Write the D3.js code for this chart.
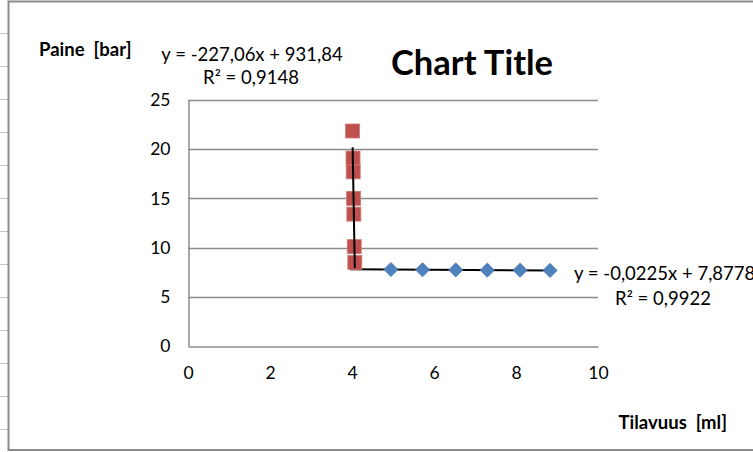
<!DOCTYPE html>
<html>
<head>
<meta charset="utf-8">
<script src="https://cdn.jsdelivr.net/npm/d3@7"></script>
<style>
  html, body { margin: 0; padding: 0; background: #fff; }
  svg { display: block; font-family: Lato, "Open Sans", sans-serif; }
  text { white-space: pre; }
</style>
</head>
<body>
<svg id="chart" width="753" height="452"></svg>
<script>
// Measurements: volume [ml] vs pressure [bar]
const blueX = [4.95, 5.72, 6.53, 7.30, 8.10, 8.83];
const blueY = [7.77, 7.75, 7.73, 7.71, 7.70, 7.68];
const redX  = [4.015, 4.025, 4.03, 4.04, 4.045, 4.055, 4.069];
const redY  = [21.85, 19.1, 17.7, 15.0, 13.4, 10.1, 8.5];

// Linear trendlines (slope, intercept) with their R² labels
const blueFit = { slope: -0.0225, intercept: 7.8778, r2: "0,9922", eq: "y = -0,0225x + 7,8778", start: 3.95 };
const redFit  = { slope: -227.06, intercept: 931.84, r2: "0,9148", eq: "y = -227,06x + 931,84" };

const xTicks = [0, 2, 4, 6, 8, 10];
const yTicks = [0, 5, 10, 15, 20, 25];

const chartTitle = "Chart Title";
const yTitle = "Paine  [bar]";
const xTitle = "Tilavuus  [ml]";

const svg = d3.select("#chart");
const W = 753, H = 452;

// spreadsheet row lines visible left of the chart frame
const rowLines = d3.range(33, H, 33);
svg.append("g").selectAll("line").data(rowLines).join("line")
  .attr("x1", 0).attr("x2", 8).attr("y1", d => d + 0.5).attr("y2", d => d + 0.5)
  .attr("stroke", "#c6c6c6").attr("stroke-width", 1);

// chart frame
svg.append("rect")
  .attr("x", 8.5).attr("y", 1.5).attr("width", W + 10).attr("height", 448.5)
  .attr("fill", "#fff").attr("stroke", "#8a8a8a").attr("stroke-width", 2);

const plot = { left: 188, right: 598, top: 100, bottom: 346 };
const x = d3.scaleLinear().domain([0, 10]).range([plot.left, plot.right]);
const y = d3.scaleLinear().domain([0, 25]).range([plot.bottom, plot.top]);

// horizontal gridlines
svg.append("g").selectAll("line").data(yTicks.filter(d => d > 0)).join("line")
  .attr("x1", plot.left).attr("x2", plot.right)
  .attr("y1", d => Math.round(y(d)) + 0.5).attr("y2", d => Math.round(y(d)) + 0.5)
  .attr("stroke", "#8c8c8c").attr("stroke-width", 1.5);

// axes
const yAxis = d3.axisLeft(y).tickValues(yTicks).tickSize(0).tickPadding(18);
const xAxis = d3.axisBottom(x).tickValues(xTicks).tickSize(0).tickPadding(20);

const gy = svg.append("g").attr("transform", `translate(${plot.left + 0.5},0)`).call(yAxis);
const gx = svg.append("g").attr("transform", `translate(0,${plot.bottom + 0.5})`).call(xAxis);
[gx, gy].forEach(g => {
  g.select(".domain").attr("stroke", "#8c8c8c").attr("stroke-width", 1.5);
  g.selectAll("text").attr("font-family", "Lato, sans-serif").attr("font-size", 17.5).attr("fill", "#000");
});

// trendlines
const line = d3.line().x(d => x(d[0])).y(d => y(d[1]));
const bx0 = blueFit.start, bx1 = d3.max(blueX);
svg.append("path")
  .datum([[bx0, blueFit.slope * bx0 + blueFit.intercept], [bx1, blueFit.slope * bx1 + blueFit.intercept]])
  .attr("d", line).attr("stroke", "#000").attr("stroke-width", 2).attr("fill", "none");

// blue series: diamonds
const blue = blueX.map((v, i) => [v, blueY[i]]);
svg.append("g").selectAll("path").data(blue).join("path")
  .attr("d", d3.symbol(d3.symbolSquare, 100)())
  .attr("transform", d => `translate(${x(d[0])},${y(d[1])}) rotate(45)`)
  .attr("fill", "#4f81bd").attr("stroke", "#4a7ab5").attr("stroke-width", 0.8);

// red series: squares
const red = redX.map((v, i) => [v, redY[i]]);
svg.append("g").selectAll("rect").data(red).join("rect")
  .attr("x", d => x(d[0]) - 7).attr("y", d => y(d[1]) - 7)
  .attr("width", 14).attr("height", 14)
  .attr("fill", "#c0504d").attr("stroke", "#d27a77").attr("stroke-width", 0.8);

const rx0 = d3.min(redX), rx1 = d3.max(redX);
svg.append("path")
  .datum([[rx0, redFit.slope * rx0 + redFit.intercept], [rx1, redFit.slope * rx1 + redFit.intercept]])
  .attr("d", line).attr("stroke", "#000").attr("stroke-width", 2).attr("fill", "none");

// titles
svg.append("text").text(chartTitle)
  .attr("x", 472).attr("y", 75).attr("text-anchor", "middle")
  .attr("font-weight", "bold").attr("font-size", 34.5);

svg.append("text").text(yTitle)
  .attr("x", 39).attr("y", 56)
  .attr("font-weight", "bold").attr("font-size", 18.5);

svg.append("text").text(xTitle)
  .attr("x", 727).attr("y", 429).attr("text-anchor", "end")
  .attr("font-weight", "bold").attr("font-size", 18.5);

// trendline equations
const eqSize = 18.5;
svg.append("text").text(redFit.eq).attr("x", 252).attr("y", 61)
  .attr("text-anchor", "middle").attr("font-size", eqSize);
svg.append("text").text("R² = " + redFit.r2).attr("x", 251).attr("y", 84)
  .attr("text-anchor", "middle").attr("font-size", eqSize);
svg.append("text").text(blueFit.eq).attr("x", 574).attr("y", 280)
  .attr("font-size", eqSize);
svg.append("text").text("R² = " + blueFit.r2).attr("x", 663).attr("y", 305)
  .attr("text-anchor", "middle").attr("font-size", eqSize);
</script>
</body>
</html>
